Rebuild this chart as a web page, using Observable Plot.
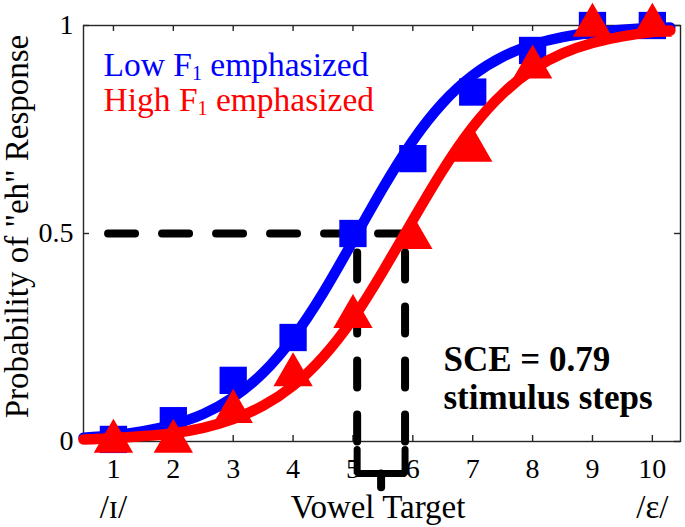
<!DOCTYPE html>
<html><head><meta charset="utf-8">
<script src="https://cdn.jsdelivr.net/npm/d3@7"></script>
<script src="https://cdn.jsdelivr.net/npm/@observablehq/plot@0.6"></script>
<style>body{margin:0;background:#fff}</style>
</head><body><div id="chart"></div>
<script>
// ---- data ----
const steps = [1, 2, 3, 4, 5, 6, 7, 8, 9, 10];
const lowF1 = [0.005, 0.05, 0.147, 0.25, 0.50, 0.68, 0.84, 0.94, 1.0, 1.0];
const highF1 = [0.0, 0.0, 0.072, 0.16, 0.30, 0.49, 0.70, 0.90, 1.0, 1.0];
const fitX = [0.5, 1, 1.5, 2, 2.5, 3, 3.5, 4, 4.5, 5, 5.5, 6, 6.5, 7, 7.5, 8, 8.5, 9, 9.5, 10, 10.3];
const lowFit = [0.009, 0.015, 0.025, 0.041, 0.066, 0.106, 0.165, 0.249, 0.357, 0.482, 0.609, 0.723, 0.814, 0.880, 0.925, 0.954, 0.972, 0.983, 0.990, 0.994, 0.995];
const highFit = [0.005, 0.008, 0.013, 0.020, 0.033, 0.054, 0.086, 0.134, 0.203, 0.295, 0.409, 0.532, 0.652, 0.756, 0.836, 0.894, 0.933, 0.958, 0.974, 0.984, 0.988];
const pseLow = 5.07, pseHigh = 5.87;
const braceX = [pseLow, pseLow, pseHigh, pseHigh];
const braceY = [-0.019, -0.077, -0.077, -0.019];
const nubX = [5.47, 5.47];
const nubY = [-0.077, -0.11];
const yTicks = [0, 0.5, 1];
const xLabels = ["/ɪ/", "/ε/"];
const xLabelPos = [1, 10];

const W = 685, H = 527, mL = 83, mR = 5, mT = 25, mB = 86;
const fw = W - mL - mR, fh = H - mT - mB, tk = 6;
const serif = "'Liberation Serif', 'Times New Roman', serif";

const lowPts = steps.map((s, i) => ({x: s, y: lowF1[i]}));
const highPts = steps.map((s, i) => ({x: s, y: highF1[i]}));
const lowCurve = fitX.map((x, i) => ({x, y: lowFit[i]}));
const highCurve = fitX.map((x, i) => ({x, y: highFit[i]}));

const plot = Plot.plot({
  width: W, height: H,
  marginLeft: mL, marginRight: mR, marginTop: mT, marginBottom: mB,
  style: {fontFamily: serif, fontSize: "28px", background: "#fff", color: "#000"},
  x: {domain: [0.5, 10.47], axis: null},
  y: {domain: [0, 1], axis: null},
  marks: [
    Plot.frame({stroke: "#262626", strokeWidth: 1.4}),
    Plot.tickX(steps, {x: d => d, stroke: "#262626", strokeWidth: 1.4, insetTop: fh - tk}),
    Plot.tickX(steps, {x: d => d, stroke: "#262626", strokeWidth: 1.4, insetBottom: fh - tk}),
    Plot.tickY(yTicks, {y: d => d, stroke: "#262626", strokeWidth: 1.4, insetRight: fw - tk}),
    Plot.tickY(yTicks, {y: d => d, stroke: "#262626", strokeWidth: 1.4, insetLeft: fw - tk}),
    Plot.axisX({ticks: steps, tickSize: 0, tickPadding: 17, fontSize: 28, label: null, tickFormat: d => String(d)}),
    Plot.axisY({ticks: yTicks, tickSize: 0, tickPadding: 10, fontSize: 28, label: null, tickFormat: d => String(d)}),
    // dashed guides
    Plot.line([{x: pseHigh, y: 0.5}, {x: 0.5, y: 0.5}], {x: "x", y: "y", stroke: "#000", strokeWidth: 8, strokeDasharray: "27,27"}),
    Plot.line([{x: pseLow, y: 0}, {x: pseLow, y: 0.5}], {x: "x", y: "y", stroke: "#000", strokeWidth: 8, strokeDasharray: "27,27"}),
    Plot.line([{x: pseHigh, y: 0}, {x: pseHigh, y: 0.5}], {x: "x", y: "y", stroke: "#000", strokeWidth: 8, strokeDasharray: "27,27"}),
    // brace below axis
    Plot.line(braceX.map((x, i) => ({x, y: braceY[i]})), {x: "x", y: "y", stroke: "#000", strokeWidth: 7, strokeLinejoin: "miter"}),
    Plot.line(nubX.map((x, i) => ({x, y: nubY[i]})), {x: "x", y: "y", stroke: "#000", strokeWidth: 8}),
    // series
    Plot.line(lowCurve, {x: "x", y: "y", stroke: "#0000ff", strokeWidth: 10.5, curve: "natural"}),
    Plot.dot(lowPts, {x: "x", y: "y", symbol: "square", r: 15.4, fill: "#0000ff", stroke: "none"}),
    Plot.line(highCurve, {x: "x", y: "y", stroke: "#ff0000", strokeWidth: 10.5, curve: "natural"}),
    Plot.dot(highPts, {x: "x", y: "y", symbol: "triangle", r: 14.6, fill: "#ff0000", stroke: "none"}),
    // legend text
    Plot.text(["Low F1 emphasized"], {frameAnchor: "top-left", textAnchor: "start", lineAnchor: "bottom", dx: 20, dy: 50, fontSize: 33.5, fill: "#0000ff", className: "legend"}),
    Plot.text(["High F1 emphasized"], {frameAnchor: "top-left", textAnchor: "start", lineAnchor: "bottom", dx: 20, dy: 85, fontSize: 33.5, fill: "#ff0000", className: "legend"}),
    // SCE annotation
    Plot.text(["SCE = 0.79"], {frameAnchor: "top-left", textAnchor: "start", lineAnchor: "bottom", dx: 360, dy: 345, fontSize: 35, fontWeight: "bold", fill: "#000"}),
    Plot.text(["stimulus steps"], {frameAnchor: "top-left", textAnchor: "start", lineAnchor: "bottom", dx: 360, dy: 383, fontSize: 35, fontWeight: "bold", fill: "#000"}),
    // axis titles
    Plot.text(["Vowel Target"], {x: [5.42], frameAnchor: "bottom", textAnchor: "middle", lineAnchor: "bottom", dy: 76, fontSize: 33, fill: "#000"}),
    Plot.text(xLabels, {x: (d, i) => xLabelPos[i], frameAnchor: "bottom", textAnchor: "middle", lineAnchor: "bottom", dy: 76, fontSize: 33, fill: "#000"}),
    Plot.text(['Probability of "eh" Response'], {frameAnchor: "left", textAnchor: "middle", rotate: -90, lineAnchor: "bottom", dx: -56, dy: -7, fontSize: 33, fill: "#000"})
  ]
});

// subscript "1" in the legend labels
d3.select(plot).selectAll("g.legend text").each(function() {
  const t = d3.select(this);
  const s = t.text();
  const i = s.indexOf("F1");
  if (i < 0) return;
  t.text(null);
  t.append("tspan").text(s.slice(0, i + 1));
  t.append("tspan").attr("font-size", "20px").attr("dy", "4").text("1");
  t.append("tspan").attr("dy", "-4").text(s.slice(i + 2));
});

document.getElementById("chart").appendChild(plot);
</script>
</body></html>
